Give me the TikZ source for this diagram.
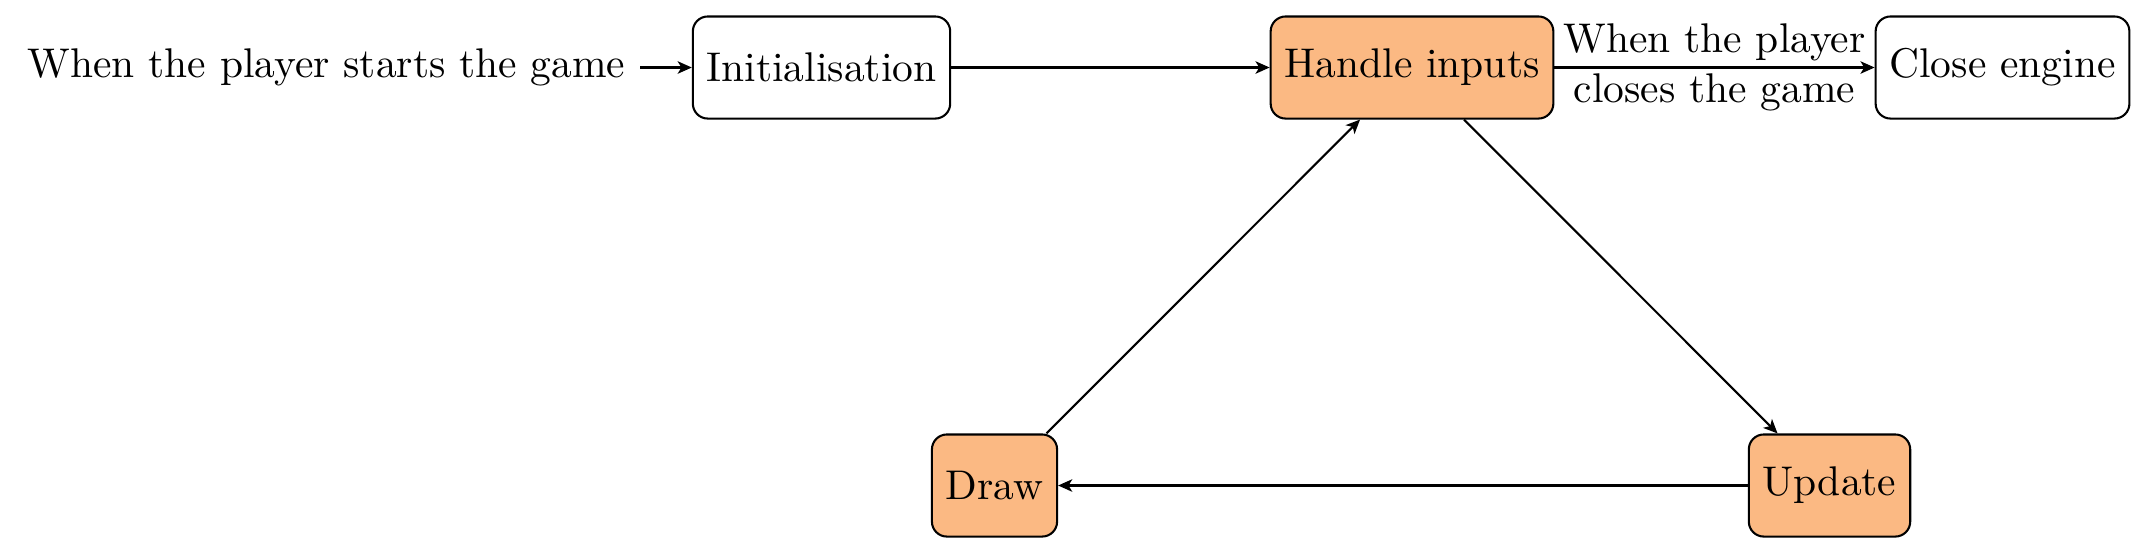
\documentclass[tikz,border=0pt]{standalone}
\usetikzlibrary{arrows.meta}
\definecolor{boxorange}{RGB}{251,185,131}
\begin{document}
\begin{tikzpicture}[x=0.24096pt, y=-0.24096pt,
  stage/.style={draw, line width=0.5pt, rounded corners=3.6pt, minimum height=24.6pt, inner sep=3.33pt},
  loopstage/.style={stage, fill=boxorange},
  conn/.style={line width=0.5pt, -{Stealth[length=3.4pt, width=3pt, inset=0.9pt]}}]
\useasboundingbox (0,0) rectangle (2142,550);
\node (start) at (326.5,67.5) {When the player starts the game};
\node[stage] (init) at (821.5,67.5) {Initialisation};
\node[loopstage] (handle) at (1412,67.5) {Handle inputs};
\node[stage] (close) at (2002.5,67.5) {Close engine};
\node[loopstage] (update) at (1829.5,485.5) {Update};
\node[loopstage] (drawn) at (994.5,485.5) {Draw};
\draw[conn] (start) -- (init);
\draw[conn] (init) -- (handle);
\draw[conn] (handle) -- node[align=center] {When the player\\closes the game} (close);
\draw[conn] (handle) -- (update);
\draw[conn] (update) -- (drawn);
\draw[conn] (drawn) -- (handle);
\end{tikzpicture}
\end{document}
